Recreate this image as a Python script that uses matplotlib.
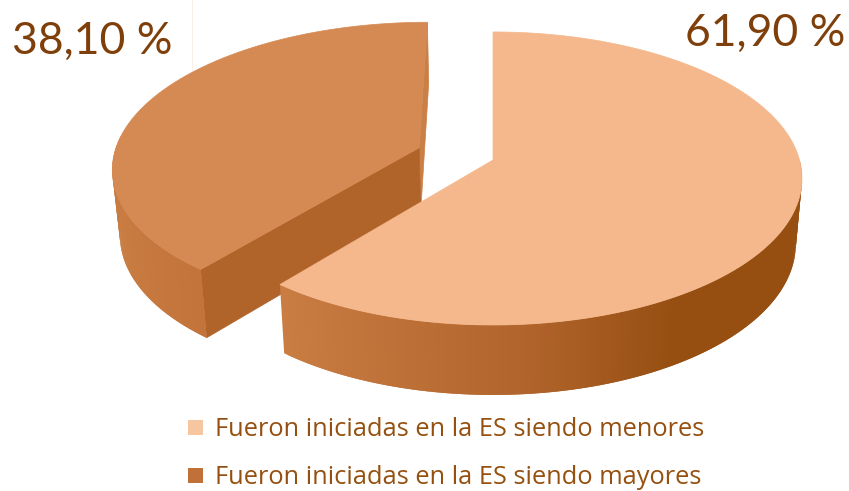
import matplotlib

matplotlib.use("Agg")
import matplotlib.pyplot as plt
import numpy as np
from matplotlib.collections import PolyCollection
from matplotlib.colors import LinearSegmentedColormap
from matplotlib.patches import Polygon, Rectangle

labels = ["Fueron iniciadas en la ES siendo menores", "Fueron iniciadas en la ES siendo mayores"]
shares = [61.90, 38.10]
share_labels = ["61,90 %", "38,10 %"]

# projection of the tilted pie, in picture pixels
CX, CY = 493, 160
RX, RY = 306.5, 144.2
PERSP = 0.126
SWEEP = 0.982  # source pie draws its angles slightly tighter than the shares
EXPLODE = 0.258
DROP = 225

top_big = "#f4b88c"
top_small = "#d68a53"
inner_small = "#b0642a"
side_small = "#c97f46"
text_dark = "#7f3f0a"
text_legend = "#95500f"
swatches = ["#f6c6a0", "#c07038"]

big_wall = LinearSegmentedColormap.from_list(
    "big", [(0, "#ca7d43"), (0.33, "#b2662d"), (0.55, "#964e11"), (1, "#964e11")]
)
small_wall = LinearSegmentedColormap.from_list("small", ["#c47a40", "#c97c42", "#c2743a"])


def project(u, v):
    w = 1 + PERSP * np.asarray(v)
    return CX + RX * np.asarray(u) / w, CY - RY * np.asarray(v) / w


def drop(x, y):
    return CX + 0.98 * (x - CX), DROP + 1.03 * (y - CY)


def arc(start, stop, n=200):
    return np.linspace(np.radians(start), np.radians(stop), n)


def wall(ax, t, u0, v0, cmap):
    x, y = project(u0 + np.cos(t), v0 + np.sin(t))
    xb, yb = drop(x, y)
    # each quad overlaps the next one so no seams show
    quads = []
    for i in range(len(t) - 1):
        j = min(i + 2, len(t) - 1)
        quads.append([(x[i], y[i]), (x[j], y[j]), (xb[j], yb[j]), (xb[i], yb[i])])
    cols = cmap(np.linspace(0, 1, len(quads)))
    ax.add_collection(PolyCollection(quads, facecolors=cols, edgecolors="none", linewidths=0))


fig = plt.figure(figsize=(8.49, 4.91), dpi=100)
ax = fig.add_axes([0, 0, 1, 1])
ax.set_xlim(0, 849)
ax.set_ylim(491, 0)
ax.axis("off")
plt.rcParams["font.family"] = ["Open Sans", "DejaVu Sans"]

end = 90 - 360 * shares[0] / 100 * SWEEP

# stray hairline left in the source picture
ax.axvline(192.5, ymin=1 - 70 / 491, ymax=1, color="#fbeee4", lw=0.8)

# smaller slice, pulled out along its bisector
mid = np.radians((90 + end + 360) / 2)
u0, v0 = EXPLODE * np.cos(mid), EXPLODE * np.sin(mid)
t_small = arc(90, end + 360)
ax0, ay0 = project(u0, v0)
ex, ey = project(u0 + np.cos(t_small), v0 + np.sin(t_small))
ax0b, ay0b = drop(ax0, ay0)
exb, eyb = drop(ex, ey)
ax.add_patch(Polygon([(ex[0], ey[0]), (ax0, ay0), (ax0b, ay0b), (exb[0], eyb[0])], fc=side_small, ec=side_small, lw=0.5))
ax.add_patch(Polygon([(ax0, ay0), (ex[-1], ey[-1]), (exb[-1], eyb[-1]), (ax0b, ay0b)], fc=inner_small, ec=inner_small, lw=0.5))
wall(ax, arc(175, end + 360, 80), u0, v0, small_wall)
ax.add_patch(Polygon(np.r_[[(ax0, ay0)], np.c_[ex, ey]], fc=top_small, ec=top_small, lw=0.5))

# larger slice
t_big = arc(90, end, 300)
bx, by = project(np.cos(t_big), np.sin(t_big))
wall(ax, arc(end, 0, 150), 0, 0, big_wall)
ax.add_patch(Polygon(np.r_[[(CX, CY)], np.c_[bx, by]], fc=top_big, ec=top_big, lw=0.5))

ax.text(845, 33, share_labels[0], color=text_dark, fontsize=32, family=["Lato", "DejaVu Sans"], ha="right", va="center")
ax.text(12, 41, share_labels[1], color=text_dark, fontsize=32, family=["Lato", "DejaVu Sans"], ha="left", va="center")

for label, swatch, base in zip(labels, swatches, [436, 484]):
    ax.add_patch(Rectangle((188, base - 16), 15, 15, fc=swatch, ec="none"))
    ax.text(215, base, label, color=text_legend, fontsize=18.3, ha="left", va="baseline")

fig.savefig("out.png", dpi=100)
